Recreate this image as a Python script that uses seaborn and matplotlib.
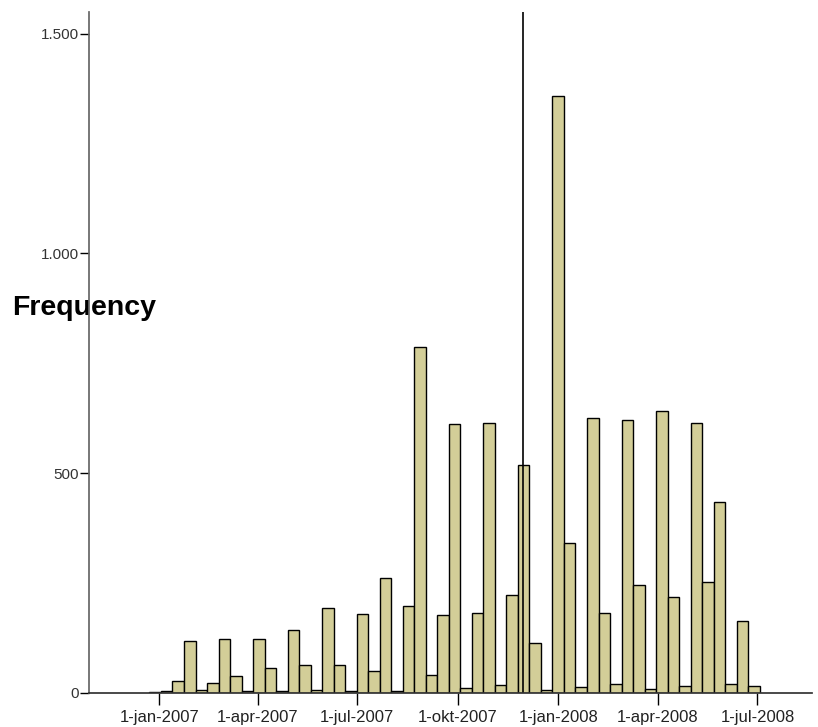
import matplotlib
matplotlib.use("Agg")
import matplotlib.pyplot as plt
import numpy as np
import pandas as pd
import seaborn as sns

# bins start 23-dec-2006, each bin ~10.5 days wide
BIN_START = pd.Timestamp("2006-12-23")
BIN_DAGER = 10.53
ANTALL = [3, 5, 28, 119, 6, 23, 123, 38, 5, 122, 56, 5, 143, 64, 7, 194, 64, 5,
          179, 51, 262, 4, 197, 787, 41, 178, 612, 12, 183, 615, 18, 222, 518,
          114, 7, 1357, 342, 14, 625, 181, 20, 621, 246, 9, 642, 219, 17, 615,
          253, 435, 21, 164, 17]
REFERANSE_DATO = pd.Timestamp("2007-11-30")
X_TICK_DATOER = ["2007-01-01", "2007-04-01", "2007-07-01", "2007-10-01",
                 "2008-01-01", "2008-04-01", "2008-07-01"]
X_TICK_TEKST = ["1-jan-2007", "1-apr-2007", "1-jul-2007", "1-okt-2007",
                "1-jan-2008", "1-apr-2008", "1-jul-2008"]
Y_TICKS = [0, 500, 1000, 1500]
Y_TICK_TEKST = ["0", "500", "1.000", "1.500"]

BASIS = pd.Timestamp("2007-01-01")


def dager(dato) -> float:
    return (pd.Timestamp(dato) - BASIS).days


def main() -> None:
    sns.set_theme(style="white")
    plt.rcParams["font.family"] = ["Liberation Sans", "DejaVu Sans"]

    start = dager(BIN_START)
    kanter = start + BIN_DAGER * np.arange(len(ANTALL) + 1)
    senter = (kanter[:-1] + kanter[1:]) / 2
    df = pd.DataFrame({"dag": senter, "antall": ANTALL})

    fig = plt.figure(figsize=(8.18, 7.27), dpi=100)
    ax = fig.add_axes([0.1088, 0.0468, 0.884, 0.9367])

    sns.histplot(data=df, x="dag", weights="antall", bins=[float(k) for k in kanter], ax=ax,
                 color="#d3ce98", edgecolor="black", linewidth=1.0, alpha=1.0)

    ax.axvline(dager(REFERANSE_DATO), color="black", linewidth=1.2)

    ax.set_xlim(-64.3, 597)
    ax.set_ylim(0, 1549)
    ax.set_xticks([dager(d) for d in X_TICK_DATOER])
    ax.set_xticklabels(X_TICK_TEKST, fontsize=12, color="#222222")
    ax.set_yticks(Y_TICKS)
    ax.set_yticklabels(Y_TICK_TEKST, fontsize=11, color="#333333")
    ax.tick_params(axis="x", direction="out", length=8.5, width=1, color="black", pad=3.5, bottom=True)
    ax.tick_params(axis="y", direction="out", length=6.5, width=1, color="black", pad=0.5, left=True)

    ax.set_xlabel("")
    ax.set_ylabel("Frequency", rotation=0, fontsize=20.5, fontweight="bold", color="black",
                  va="center", ha="center")
    ax.yaxis.set_label_coords(-0.0069, 0.565)

    for side in ["top", "right"]:
        ax.spines[side].set_visible(False)
    ax.spines["left"].set_color("#666666")
    ax.spines["bottom"].set_color("#333333")
    ax.grid(False)

    fig.savefig("out.png", dpi=100)
    plt.close(fig)


if __name__ == "__main__":
    main()
